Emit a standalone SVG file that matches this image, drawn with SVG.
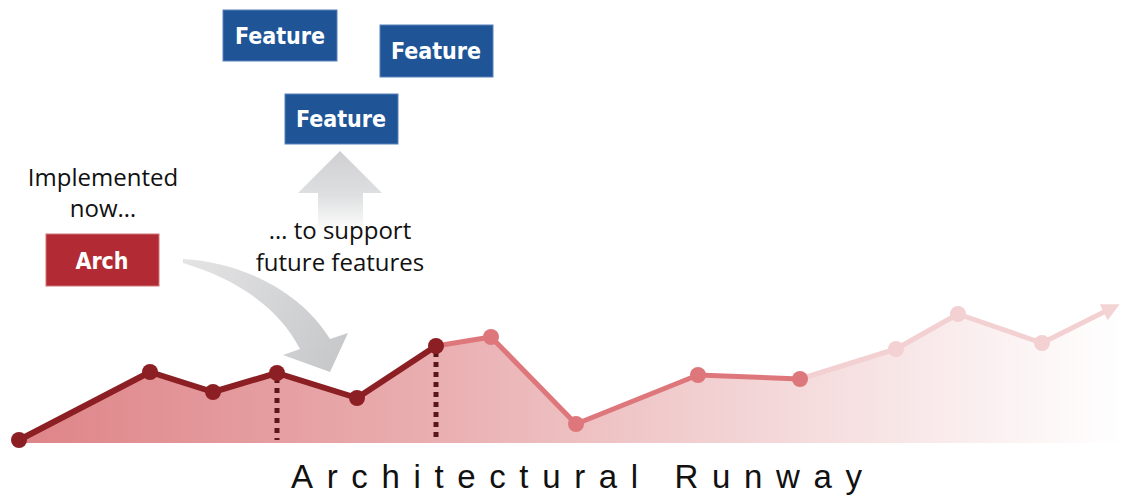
<svg xmlns="http://www.w3.org/2000/svg" width="1122" height="495" viewBox="0 0 1122 495">
<defs>
<linearGradient id="area" x1="0" y1="0" x2="1122" y2="0" gradientUnits="userSpaceOnUse">
<stop offset="0" stop-color="#de8286"/>
<stop offset="0.4" stop-color="#eab0b2"/>
<stop offset="0.7" stop-color="#f4d9da"/>
<stop offset="1" stop-color="#ffffff"/>
</linearGradient>
<linearGradient id="up" x1="0" y1="150" x2="0" y2="232" gradientUnits="userSpaceOnUse">
<stop offset="0" stop-color="#cfcfd1"/>
<stop offset="0.55" stop-color="#dedfe0"/>
<stop offset="1" stop-color="#ffffff"/>
</linearGradient>
<linearGradient id="curve" x1="183" y1="260" x2="340" y2="370" gradientUnits="userSpaceOnUse">
<stop offset="0" stop-color="#e4e4e5"/>
<stop offset="1" stop-color="#c6c7c9"/>
</linearGradient>
<marker id="head" viewBox="0 0 10 10" refX="4" refY="5" markerWidth="3.6" markerHeight="3.6" orient="auto">
<path d="M0 0 L10 5 L0 10 Z" fill="#f4d3d5"/>
</marker>
<style>
.feat rect{fill:#1f5597;stroke:#5a82bd;stroke-width:1}
.feat text,.arch text{fill:#ffffff;font-family:"DejaVu Sans Condensed","DejaVu Sans",sans-serif;font-weight:bold;font-size:23px;text-anchor:middle}
.arch rect{fill:#b22a33;stroke:#d0767b;stroke-width:1}
.lbl{font-family:"Open Sans","Noto Sans",sans-serif;font-size:24px;fill:#111111;text-anchor:middle}
.dk{stroke:#8b1f24;stroke-width:6;fill:none;stroke-linejoin:round}
.md{stroke:#de777b;stroke-width:5;fill:none;stroke-linejoin:round}
.lt{stroke:#f3d0d2;stroke-width:5;fill:none;stroke-linejoin:round}
.dkc{fill:#8b1f24}
.mdc{fill:#de777b}
.ltc{fill:#f3d0d2}
.dot{stroke:#5a1619;stroke-width:5;stroke-dasharray:5 5;fill:none}
</style>
</defs>
<rect width="1122" height="495" fill="#ffffff"/>

<g id="runway-area">
<polygon points="19,440 150,372 213,392 277,373 357,398 436,346 491,337 576,424 698,375 800,379 896,349 958,314 1042,343 1118,310 1122,310 1122,443 19,443" fill="url(#area)"/>
</g>

<g id="guides">
<line class="dot" x1="277" y1="378" x2="277" y2="440"/>
<line class="dot" x1="436" y1="352" x2="436" y2="440"/>
</g>

<g id="connectors">
<polyline class="lt" points="800,379 896,349 958,314 1042,343 1110,309" marker-end="url(#head)"/>
<polyline class="md" points="436,346 491,337 576,424 698,375 800,379"/>
<polyline class="dk" points="19,440 150,372 213,392 277,373 357,398 436,346"/>
<path id="curve-arrow" d="M183 259 C240 262 300 290 330 339 L348 333 L330 372 L283 355 L300 349 C280 310 240 280 183 263 Z" fill="url(#curve)"/>
<path id="up-arrow" d="M340 151 L382 193 L363 193 L363 232 L318 232 L318 193 L298 193 Z" fill="url(#up)"/>
</g>

<g id="points">
<circle class="dkc" cx="19" cy="440" r="8"/>
<circle class="dkc" cx="150" cy="372" r="8"/>
<circle class="dkc" cx="213" cy="392" r="8"/>
<circle class="dkc" cx="277" cy="373" r="8"/>
<circle class="dkc" cx="357" cy="398" r="8"/>
<circle class="mdc" cx="491" cy="337" r="8"/>
<circle class="dkc" cx="436" cy="346" r="8"/>
<circle class="mdc" cx="576" cy="424" r="8"/>
<circle class="mdc" cx="698" cy="375" r="8"/>
<circle class="mdc" cx="800" cy="379" r="8"/>
<circle class="ltc" cx="896" cy="349" r="8"/>
<circle class="ltc" cx="958" cy="314" r="8"/>
<circle class="ltc" cx="1042" cy="343" r="8"/>
</g>

<g id="feature-1" class="feat">
<rect x="223" y="10" width="114" height="51"/>
<text x="280" y="44">Feature</text>
</g>
<g id="feature-2" class="feat">
<rect x="380" y="25" width="113" height="52"/>
<text x="436" y="59">Feature</text>
</g>
<g id="feature-3" class="feat">
<rect x="285" y="94" width="113" height="50"/>
<text x="341" y="127">Feature</text>
</g>
<g id="arch" class="arch">
<rect x="46" y="234" width="113" height="52"/>
<text x="102" y="269">Arch</text>
</g>

<g id="labels">
<text class="lbl" x="103" y="186">Implemented</text>
<text class="lbl" x="103" y="217">now…</text>
<text class="lbl" x="340" y="239">… to support</text>
<text class="lbl" x="340" y="271">future features</text>
<text x="291" y="488" textLength="571" lengthAdjust="spacing" style="font-family:'Liberation Sans',Arial,sans-serif;font-size:33px;fill:#111111">Architectural Runway</text>
</g>
</svg>
